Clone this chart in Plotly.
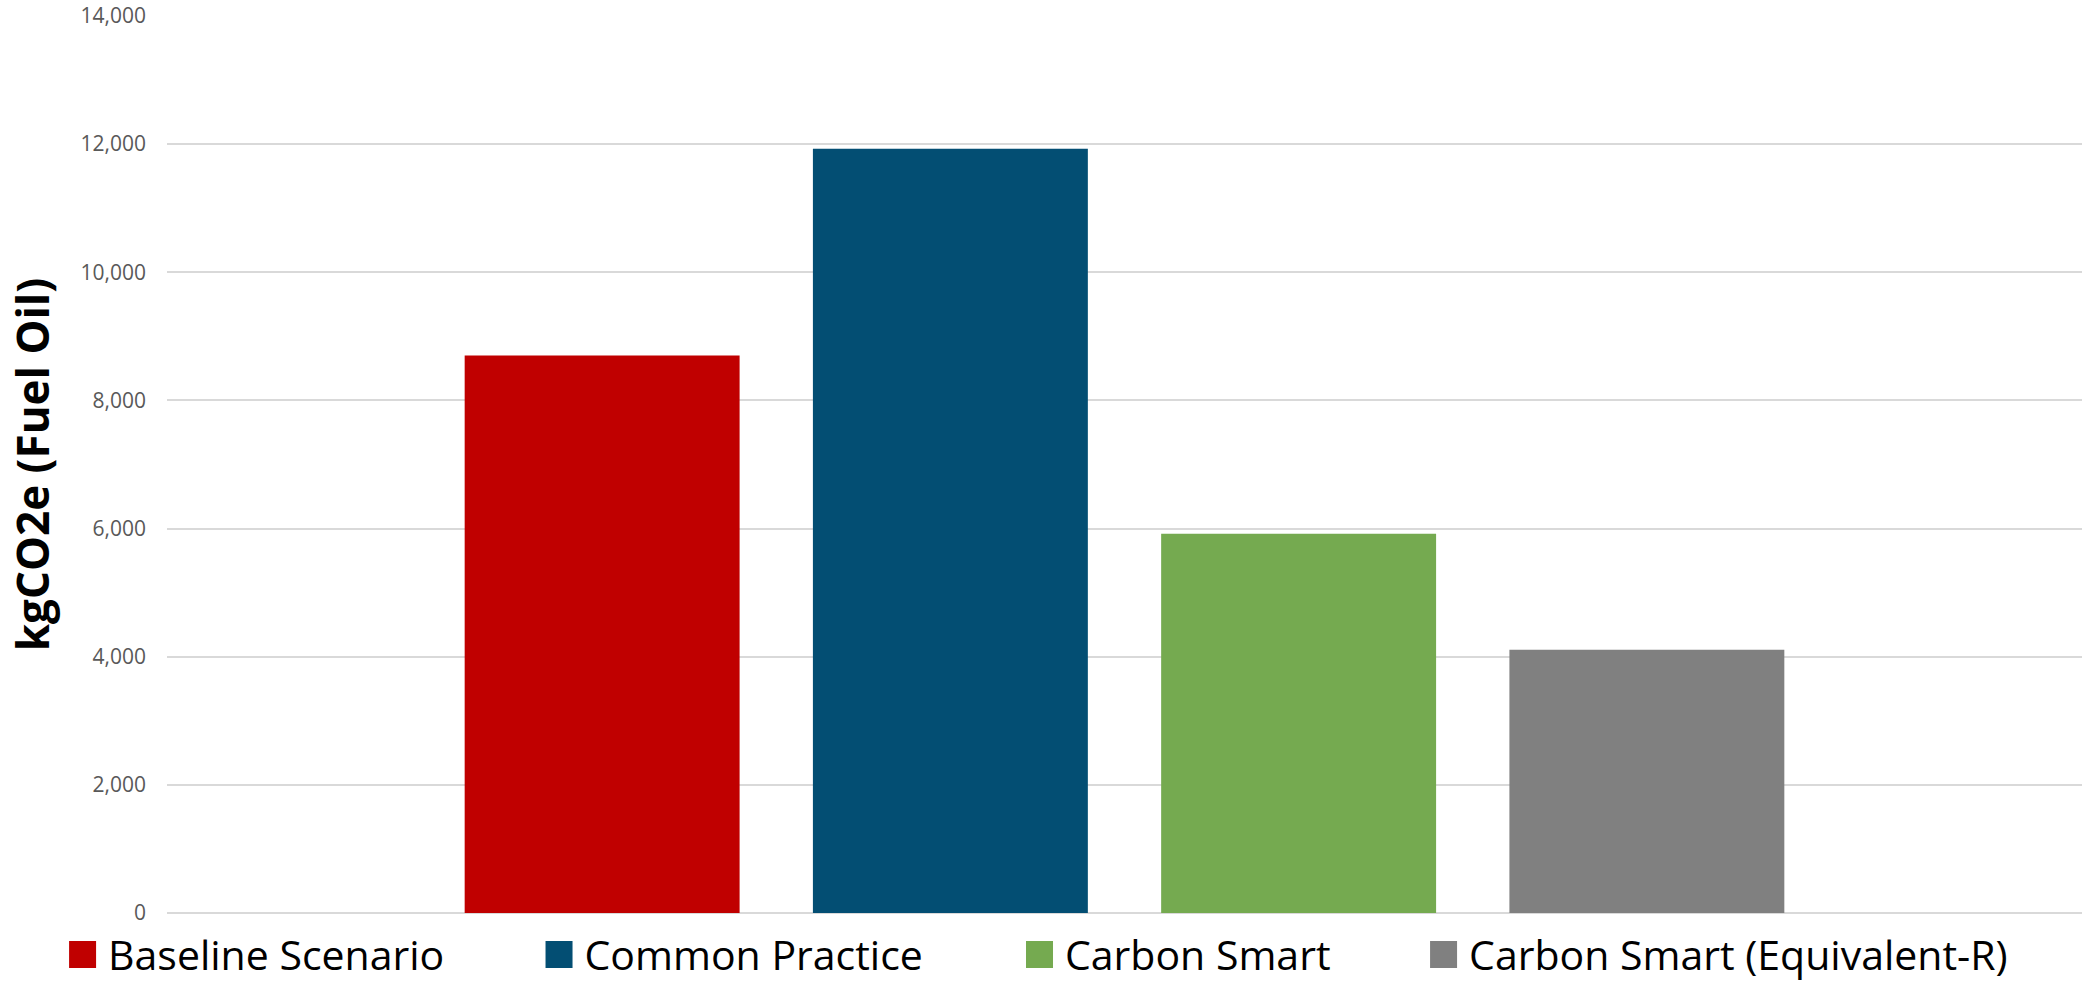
import plotly.graph_objects as go

categories = ["Fuel Oil"]
series_names = ["Baseline Scenario", "Common Practice", "Carbon Smart", "Carbon Smart (Equivalent-R)"]
series_values = [8700, 11930, 5920, 4110]
series_colors = ["#C00000", "#034E73", "#75AA50", "#808080"]
y_tick_values = [0, 2000, 4000, 6000, 8000, 10000, 12000, 14000]
y_tick_labels = ["0", "2,000", "4,000", "6,000", "8,000", "10,000", "12,000", "14,000"]
y_title = "kgCO2e (Fuel Oil)"

# horizontal placement of each legend entry (paper fraction of the plot width)
legend_x = [-0.0574, 0.1914, 0.4423, 0.6533]
legend_ids = ["legend", "legend2", "legend3", "legend4"]

fig = go.Figure()
for name, val, col, lid in zip(series_names, series_values, series_colors, legend_ids):
    fig.add_trace(go.Bar(
        x=categories, y=[val], name=name, legend=lid,
        marker=dict(color=col, line=dict(width=0)),
        hoverinfo="name+y",
    ))

legend_common = dict(
    orientation="h", xanchor="left", y=-0.0466, yanchor="middle",
    font=dict(family="Open Sans", size=41, color="#000000"),
    itemwidth=41, bgcolor="rgba(0,0,0,0)", borderwidth=0,
    itemclick=False, itemdoubleclick=False,
)
legend_layout = {lid: dict(legend_common, x=lx) for lid, lx in zip(legend_ids, legend_x)}

fig.update_layout(
    width=2082, height=984,
    margin=dict(l=167, r=0, t=16, b=71, autoexpand=False),
    paper_bgcolor="white", plot_bgcolor="white",
    barmode="group", bargap=0.2726, bargroupgap=0.2105,
    font=dict(family="Open Sans", color="#595959"),
    showlegend=True,
    xaxis=dict(showticklabels=False, showgrid=False, zeroline=False, showline=False, ticks=""),
    yaxis=dict(
        range=[0, 14000], tickvals=y_tick_values, ticktext=y_tick_labels,
        showgrid=True, gridcolor="#D9D9D9", gridwidth=2,
        zeroline=True, zerolinecolor="#D9D9D9", zerolinewidth=2,
        showline=False, ticks="", ticklabelstandoff=20,
        tickfont=dict(family="Open Sans", size=21, color="#595959"),
        title=dict(text=y_title, standoff=17,
                   font=dict(family="Open Sans", size=44, color="#000000", weight="bold")),
        automargin=False,
    ),
    **legend_layout,
)

post = """
var gd = document.getElementById('{plot_id}');
function fixLegend(){
  gd.querySelectorAll('g.legendpoints path').forEach(function(p){
    p.setAttribute('d','M13.5,13.5H-13.5V-13.5H13.5Z');
  });
}
fixLegend();
if (gd.on) { gd.on('plotly_afterplot', fixLegend); }
setTimeout(fixLegend, 0);
setTimeout(fixLegend, 200);
setTimeout(fixLegend, 800);
"""

fig.write_html("out.html", post_script=post, config={"displayModeBar": False})
